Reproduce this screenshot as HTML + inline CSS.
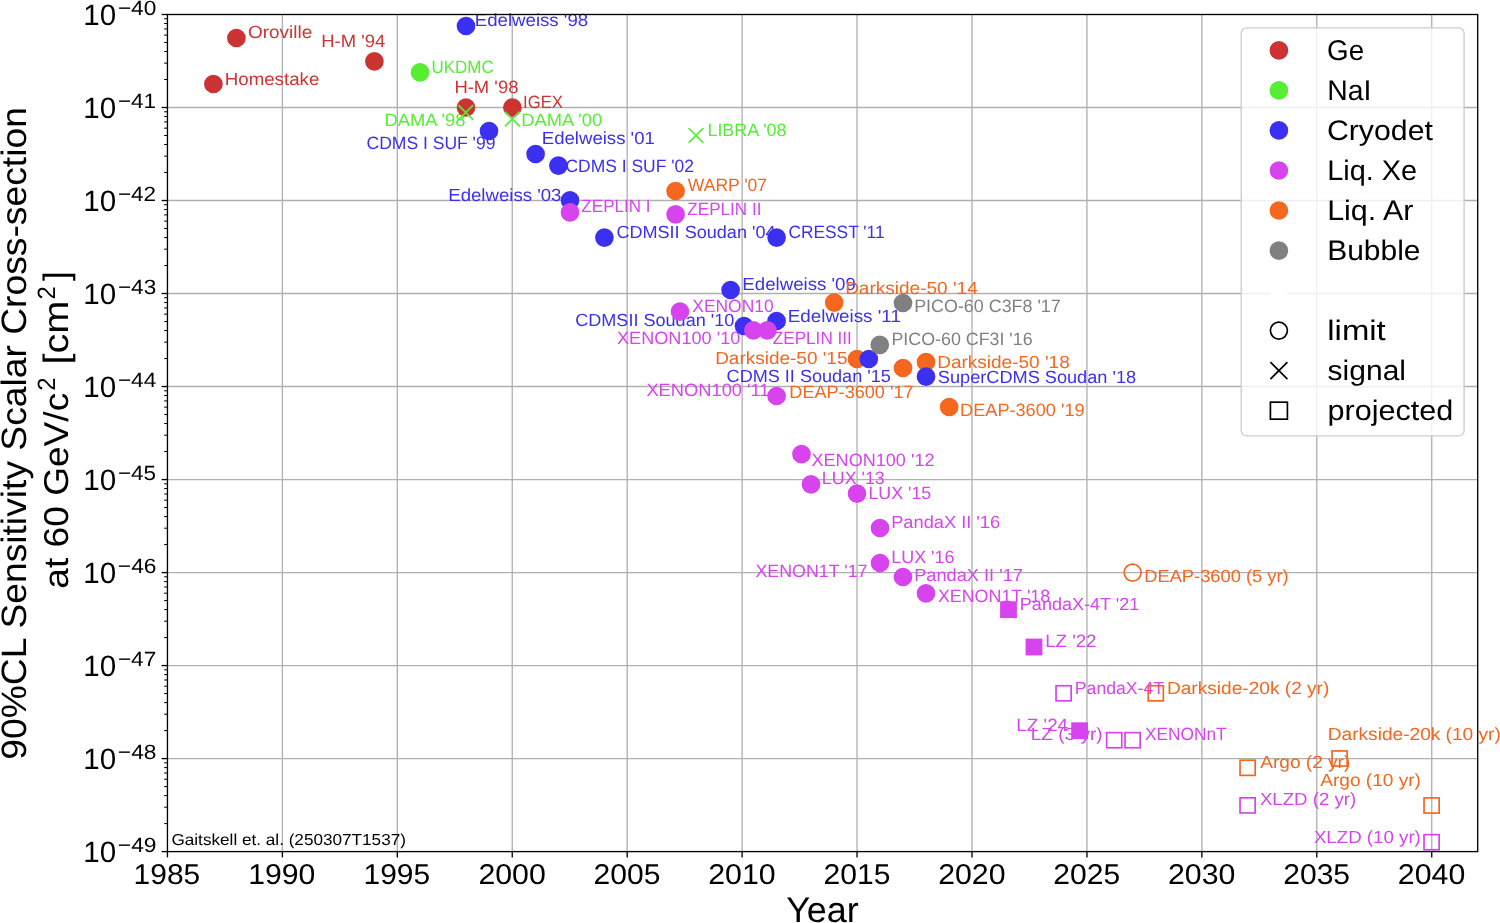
<!DOCTYPE html>
<html><head><meta charset="utf-8"><title>WIMP cross-section limits</title><style>html,body{margin:0;padding:0;background:#fff;overflow:hidden}svg{display:block;will-change:transform}text{font-family:"Liberation Sans",sans-serif;white-space:pre;text-rendering:geometricPrecision}</style></head><body>
<svg width="1500" height="923" viewBox="0 0 1500 923" font-family="Liberation Sans, sans-serif">
<rect x="0" y="0" width="1500" height="923" fill="#ffffff"/>
<g stroke="#b0b0b0" stroke-width="1.333" fill="none"><line x1="282.38" y1="14.50" x2="282.38" y2="851.60"/><line x1="397.32" y1="14.50" x2="397.32" y2="851.60"/><line x1="512.25" y1="14.50" x2="512.25" y2="851.60"/><line x1="627.19" y1="14.50" x2="627.19" y2="851.60"/><line x1="742.12" y1="14.50" x2="742.12" y2="851.60"/><line x1="857.06" y1="14.50" x2="857.06" y2="851.60"/><line x1="971.99" y1="14.50" x2="971.99" y2="851.60"/><line x1="1086.93" y1="14.50" x2="1086.93" y2="851.60"/><line x1="1201.87" y1="14.50" x2="1201.87" y2="851.60"/><line x1="1316.80" y1="14.50" x2="1316.80" y2="851.60"/><line x1="1431.73" y1="14.50" x2="1431.73" y2="851.60"/><line x1="167.45" y1="107.51" x2="1477.70" y2="107.51"/><line x1="167.45" y1="200.52" x2="1477.70" y2="200.52"/><line x1="167.45" y1="293.53" x2="1477.70" y2="293.53"/><line x1="167.45" y1="386.54" x2="1477.70" y2="386.54"/><line x1="167.45" y1="479.56" x2="1477.70" y2="479.56"/><line x1="167.45" y1="572.57" x2="1477.70" y2="572.57"/><line x1="167.45" y1="665.58" x2="1477.70" y2="665.58"/><line x1="167.45" y1="758.59" x2="1477.70" y2="758.59"/></g>
<g><text transform="translate(248.00,38.00) scale(1.1276,1.0485)" font-size="16.81" fill="#cc3333">Oroville</text><text transform="translate(224.77,84.80) scale(1.1125,1.0485)" font-size="16.81" fill="#cc3333">Homestake</text><text transform="translate(321.19,46.80) scale(1.0979,1.0629)" font-size="16.81" fill="#cc3333">H-M '94</text><text transform="translate(454.39,93.40) scale(1.0989,1.0629)" font-size="16.81" fill="#cc3333">H-M '98</text><text transform="translate(523.06,108.00) scale(0.9917,1.0629)" font-size="16.81" fill="#cc3333">IGEX</text><text transform="translate(431.59,72.60) scale(1.0075,1.0629)" font-size="16.81" fill="#55ee33">UKDMC</text><text transform="translate(384.51,126.00) scale(1.0915,1.0629)" font-size="16.81" fill="#55ee33">DAMA '98</text><text transform="translate(521.20,126.00) scale(1.0909,1.0629)" font-size="16.81" fill="#55ee33">DAMA '00</text><text transform="translate(707.43,135.80) scale(1.0664,1.0629)" font-size="16.81" fill="#55ee33">LIBRA '08</text><text transform="translate(474.77,26.00) scale(1.1097,1.0485)" font-size="16.81" fill="#3c30f0">Edelweiss '98</text><text transform="translate(366.47,149.00) scale(1.0436,1.0629)" font-size="16.81" fill="#3c30f0">CDMS I SUF '99</text><text transform="translate(541.77,144.40) scale(1.1067,1.0485)" font-size="16.81" fill="#3c30f0">Edelweiss '01</text><text transform="translate(565.41,172.40) scale(1.0399,1.0629)" font-size="16.81" fill="#3c30f0">CDMS I SUF '02</text><text transform="translate(448.26,200.80) scale(1.1079,1.0485)" font-size="16.81" fill="#3c30f0">Edelweiss '03</text><text transform="translate(616.38,238.00) scale(1.0758,1.0485)" font-size="16.81" fill="#3c30f0">CDMSII Soudan '04</text><text transform="translate(788.42,238.00) scale(1.0323,1.0629)" font-size="16.81" fill="#3c30f0">CRESST '11</text><text transform="translate(742.37,290.40) scale(1.1102,1.0485)" font-size="16.81" fill="#3c30f0">Edelweiss '09</text><text transform="translate(575.18,326.00) scale(1.0759,1.0485)" font-size="16.81" fill="#3c30f0">CDMSII Soudan '10</text><text transform="translate(787.76,321.80) scale(1.1206,1.0485)" font-size="16.81" fill="#3c30f0">Edelweiss '11</text><text transform="translate(581.36,212.40) scale(1.0145,1.0597)" font-size="16.81" fill="#d744ee">ZEPLIN I</text><text transform="translate(687.36,214.80) scale(1.0176,1.0597)" font-size="16.81" fill="#d744ee">ZEPLIN II</text><text transform="translate(692.31,312.00) scale(1.0368,1.0629)" font-size="16.81" fill="#d744ee">XENON10</text><text transform="translate(616.98,344.40) scale(1.0791,1.0629)" font-size="16.81" fill="#d744ee">XENON100 '10</text><text transform="translate(772.76,344.40) scale(1.0203,1.0597)" font-size="16.81" fill="#d744ee">ZEPLIN III</text><text transform="translate(687.82,191.40) scale(1.0427,1.0629)" font-size="16.81" fill="#f5661e">WARP '07</text><text transform="translate(845.14,293.50) scale(1.1320,1.0485)" font-size="16.81" fill="#f5661e">Darkside-50 '14</text><text transform="translate(715.15,364.00) scale(1.1295,1.0485)" font-size="16.81" fill="#f5661e">Darkside-50 '15</text><text transform="translate(726.59,382.00) scale(1.0760,1.0485)" font-size="16.81" fill="#3c30f0">CDMS II Soudan '15</text><text transform="translate(914.13,312.20) scale(1.0654,1.0629)" font-size="16.81" fill="#808080">PICO-60 C3F8 '17</text><text transform="translate(891.44,345.20) scale(1.0617,1.0629)" font-size="16.81" fill="#808080">PICO-60 CF3I '16</text><text transform="translate(789.31,397.70) scale(1.0779,1.0629)" font-size="16.81" fill="#f5661e">DEAP-3600 '17</text><text transform="translate(937.14,367.90) scale(1.1325,1.0485)" font-size="16.81" fill="#f5661e">Darkside-50 '18</text><text transform="translate(937.87,383.00) scale(1.0808,1.0485)" font-size="16.81" fill="#3c30f0">SuperCDMS Soudan '18</text><text transform="translate(960.11,415.60) scale(1.0797,1.0629)" font-size="16.81" fill="#f5661e">DEAP-3600 '19</text><text transform="translate(646.42,396.40) scale(1.0888,1.0629)" font-size="16.81" fill="#d744ee">XENON100 '11</text><text transform="translate(811.49,465.80) scale(1.0759,1.0629)" font-size="16.81" fill="#d744ee">XENON100 '12</text><text transform="translate(821.84,484.20) scale(1.0620,1.0629)" font-size="16.81" fill="#d744ee">LUX '13</text><text transform="translate(868.44,498.80) scale(1.0592,1.0597)" font-size="16.81" fill="#d744ee">LUX '15</text><text transform="translate(891.20,528.40) scale(1.0858,1.0485)" font-size="16.81" fill="#d744ee">PandaX II '16</text><text transform="translate(891.23,562.80) scale(1.0670,1.0629)" font-size="16.81" fill="#d744ee">LUX '16</text><text transform="translate(755.43,577.40) scale(1.0617,1.0629)" font-size="16.81" fill="#d744ee">XENON1T '17</text><text transform="translate(914.21,581.40) scale(1.0832,1.0485)" font-size="16.81" fill="#d744ee">PandaX II '17</text><text transform="translate(937.90,602.40) scale(1.0632,1.0629)" font-size="16.81" fill="#d744ee">XENON1T '18</text><text transform="translate(1019.82,610.00) scale(1.0737,1.0485)" font-size="16.81" fill="#d744ee">PandaX-4T '21</text><text transform="translate(1045.17,647.40) scale(1.1121,1.0629)" font-size="16.81" fill="#d744ee">LZ '22</text><text transform="translate(1144.20,581.90) scale(1.0898,1.0470)" font-size="16.81" fill="#f5661e">DEAP-3600 (5 yr)</text><text transform="translate(1074.85,694.00) scale(1.0497,1.0485)" font-size="16.81" fill="#d744ee">PandaX-4T</text><text transform="translate(1030.74,740.40) scale(1.1320,1.0470)" font-size="16.81" fill="#d744ee">LZ (3 yr)</text><text transform="translate(1144.91,740.00) scale(1.0299,1.0629)" font-size="16.81" fill="#d744ee">XENONnT</text><text transform="translate(1016.36,731.00) scale(1.1200,1.0629)" font-size="16.81" fill="#d744ee">LZ '24</text><text transform="translate(1166.93,693.90) scale(1.1373,1.0485)" font-size="16.81" fill="#f5661e">Darkside-20k (2 yr)</text><text transform="translate(1327.73,740.40) scale(1.1377,1.0485)" font-size="16.81" fill="#f5661e">Darkside-20k (10 yr)</text><text transform="translate(1260.26,768.00) scale(1.1345,1.0470)" font-size="16.81" fill="#f5661e">Argo (2 yr)</text><text transform="translate(1320.26,786.40) scale(1.1355,1.0470)" font-size="16.81" fill="#f5661e">Argo (10 yr)</text><text transform="translate(1259.88,805.40) scale(1.1091,1.0470)" font-size="16.81" fill="#d744ee">XLZD (2 yr)</text><text transform="translate(1313.88,842.80) scale(1.1125,1.0470)" font-size="16.81" fill="#d744ee">XLZD (10 yr)</text></g>
<g><circle cx="236.40" cy="38.00" r="8.5" fill="#cc3333" stroke="#cc3333" stroke-width="1.68"/><circle cx="213.40" cy="84.00" r="8.5" fill="#cc3333" stroke="#cc3333" stroke-width="1.68"/><circle cx="374.40" cy="61.40" r="8.5" fill="#cc3333" stroke="#cc3333" stroke-width="1.68"/><circle cx="466.00" cy="107.50" r="8.5" fill="#cc3333" stroke="#cc3333" stroke-width="1.68"/><circle cx="512.40" cy="107.50" r="8.5" fill="#cc3333" stroke="#cc3333" stroke-width="1.68"/><circle cx="420.00" cy="72.40" r="8.5" fill="#55ee33" stroke="#55ee33" stroke-width="1.68"/><path d="M458.40,105.10L473.20,119.90M458.40,119.90L473.20,105.10" stroke="#55ee33" stroke-width="1.68" fill="none"/><path d="M504.90,111.60L519.70,126.40M504.90,126.40L519.70,111.60" stroke="#55ee33" stroke-width="1.68" fill="none"/><path d="M688.60,128.00L703.40,142.80M688.60,142.80L703.40,128.00" stroke="#55ee33" stroke-width="1.68" fill="none"/><circle cx="466.00" cy="26.00" r="8.5" fill="#3c30f0" stroke="#3c30f0" stroke-width="1.68"/><circle cx="489.00" cy="131.00" r="8.5" fill="#3c30f0" stroke="#3c30f0" stroke-width="1.68"/><circle cx="535.60" cy="154.00" r="8.5" fill="#3c30f0" stroke="#3c30f0" stroke-width="1.68"/><circle cx="558.40" cy="165.60" r="8.5" fill="#3c30f0" stroke="#3c30f0" stroke-width="1.68"/><circle cx="570.00" cy="200.30" r="8.5" fill="#3c30f0" stroke="#3c30f0" stroke-width="1.68"/><circle cx="604.40" cy="237.60" r="8.5" fill="#3c30f0" stroke="#3c30f0" stroke-width="1.68"/><circle cx="776.60" cy="237.60" r="8.5" fill="#3c30f0" stroke="#3c30f0" stroke-width="1.68"/><circle cx="730.60" cy="290.00" r="8.5" fill="#3c30f0" stroke="#3c30f0" stroke-width="1.68"/><circle cx="744.00" cy="326.00" r="8.5" fill="#3c30f0" stroke="#3c30f0" stroke-width="1.68"/><circle cx="776.60" cy="321.00" r="8.5" fill="#3c30f0" stroke="#3c30f0" stroke-width="1.68"/><circle cx="570.00" cy="212.40" r="8.5" fill="#d744ee" stroke="#d744ee" stroke-width="1.68"/><circle cx="675.60" cy="214.40" r="8.5" fill="#d744ee" stroke="#d744ee" stroke-width="1.68"/><circle cx="680.00" cy="311.60" r="8.5" fill="#d744ee" stroke="#d744ee" stroke-width="1.68"/><circle cx="753.40" cy="330.40" r="8.5" fill="#d744ee" stroke="#d744ee" stroke-width="1.68"/><circle cx="767.40" cy="330.40" r="8.5" fill="#d744ee" stroke="#d744ee" stroke-width="1.68"/><circle cx="675.60" cy="191.00" r="8.5" fill="#f5661e" stroke="#f5661e" stroke-width="1.68"/><circle cx="834.20" cy="302.60" r="8.5" fill="#f5661e" stroke="#f5661e" stroke-width="1.68"/><circle cx="857.00" cy="359.00" r="8.5" fill="#f5661e" stroke="#f5661e" stroke-width="1.68"/><circle cx="868.80" cy="359.00" r="8.5" fill="#3c30f0" stroke="#3c30f0" stroke-width="1.68"/><circle cx="903.00" cy="303.00" r="8.5" fill="#808080" stroke="#808080" stroke-width="1.68"/><circle cx="879.80" cy="344.80" r="8.5" fill="#808080" stroke="#808080" stroke-width="1.68"/><circle cx="903.00" cy="368.00" r="8.5" fill="#f5661e" stroke="#f5661e" stroke-width="1.68"/><circle cx="926.00" cy="362.00" r="8.5" fill="#f5661e" stroke="#f5661e" stroke-width="1.68"/><circle cx="926.00" cy="376.70" r="8.5" fill="#3c30f0" stroke="#3c30f0" stroke-width="1.68"/><circle cx="949.20" cy="407.00" r="8.5" fill="#f5661e" stroke="#f5661e" stroke-width="1.68"/><circle cx="776.60" cy="396.00" r="8.5" fill="#d744ee" stroke="#d744ee" stroke-width="1.68"/><circle cx="801.50" cy="454.20" r="8.5" fill="#d744ee" stroke="#d744ee" stroke-width="1.68"/><circle cx="811.00" cy="484.40" r="8.5" fill="#d744ee" stroke="#d744ee" stroke-width="1.68"/><circle cx="857.00" cy="493.60" r="8.5" fill="#d744ee" stroke="#d744ee" stroke-width="1.68"/><circle cx="880.00" cy="528.00" r="8.5" fill="#d744ee" stroke="#d744ee" stroke-width="1.68"/><circle cx="880.00" cy="563.00" r="8.5" fill="#d744ee" stroke="#d744ee" stroke-width="1.68"/><circle cx="903.00" cy="577.00" r="8.5" fill="#d744ee" stroke="#d744ee" stroke-width="1.68"/><circle cx="926.00" cy="593.30" r="8.5" fill="#d744ee" stroke="#d744ee" stroke-width="1.68"/><rect x="1000.94" y="602.14" width="15.12" height="15.12" fill="#d744ee" stroke="#d744ee" stroke-width="1.68"/><rect x="1026.44" y="639.44" width="15.12" height="15.12" fill="#d744ee" stroke="#d744ee" stroke-width="1.68"/><circle cx="1132.60" cy="572.60" r="8.5" fill="none" stroke="#f5661e" stroke-width="1.68"/><rect x="1056.04" y="685.74" width="15.12" height="15.12" fill="none" stroke="#d744ee" stroke-width="1.68"/><rect x="1106.64" y="732.64" width="15.12" height="15.12" fill="none" stroke="#d744ee" stroke-width="1.68"/><rect x="1125.04" y="732.64" width="15.12" height="15.12" fill="none" stroke="#d744ee" stroke-width="1.68"/><rect x="1072.04" y="723.14" width="15.12" height="15.12" fill="#d744ee" stroke="#d744ee" stroke-width="1.68"/><rect x="1148.24" y="685.74" width="15.12" height="15.12" fill="none" stroke="#f5661e" stroke-width="1.68"/><rect x="1332.04" y="750.94" width="15.12" height="15.12" fill="none" stroke="#f5661e" stroke-width="1.68"/><rect x="1240.04" y="760.24" width="15.12" height="15.12" fill="none" stroke="#f5661e" stroke-width="1.68"/><rect x="1424.04" y="797.94" width="15.12" height="15.12" fill="none" stroke="#f5661e" stroke-width="1.68"/><rect x="1240.04" y="797.84" width="15.12" height="15.12" fill="none" stroke="#d744ee" stroke-width="1.68"/><rect x="1424.04" y="834.64" width="15.12" height="15.12" fill="none" stroke="#d744ee" stroke-width="1.68"/></g>
<text transform="translate(171.44,844.60) scale(1.1349,1.0485)" font-size="15.12" fill="#000">Gaitskell et. al. (250307T1537)</text>
<rect x="167.45" y="14.50" width="1310.25" height="837.10" fill="none" stroke="#000" stroke-width="1.333"/>
<g stroke="#000" stroke-width="1.333"><line x1="167.45" y1="851.60" x2="167.45" y2="857.43"/><line x1="282.38" y1="851.60" x2="282.38" y2="857.43"/><line x1="397.32" y1="851.60" x2="397.32" y2="857.43"/><line x1="512.25" y1="851.60" x2="512.25" y2="857.43"/><line x1="627.19" y1="851.60" x2="627.19" y2="857.43"/><line x1="742.12" y1="851.60" x2="742.12" y2="857.43"/><line x1="857.06" y1="851.60" x2="857.06" y2="857.43"/><line x1="971.99" y1="851.60" x2="971.99" y2="857.43"/><line x1="1086.93" y1="851.60" x2="1086.93" y2="857.43"/><line x1="1201.87" y1="851.60" x2="1201.87" y2="857.43"/><line x1="1316.80" y1="851.60" x2="1316.80" y2="857.43"/><line x1="1431.73" y1="851.60" x2="1431.73" y2="857.43"/><line x1="161.62" y1="14.50" x2="167.45" y2="14.50"/><line x1="161.62" y1="107.51" x2="167.45" y2="107.51"/><line x1="161.62" y1="200.52" x2="167.45" y2="200.52"/><line x1="161.62" y1="293.53" x2="167.45" y2="293.53"/><line x1="161.62" y1="386.54" x2="167.45" y2="386.54"/><line x1="161.62" y1="479.56" x2="167.45" y2="479.56"/><line x1="161.62" y1="572.57" x2="167.45" y2="572.57"/><line x1="161.62" y1="665.58" x2="167.45" y2="665.58"/><line x1="161.62" y1="758.59" x2="167.45" y2="758.59"/><line x1="161.62" y1="851.60" x2="167.45" y2="851.60"/></g>
<g stroke="#000" stroke-width="1.0"><line x1="164.12" y1="79.51" x2="167.45" y2="79.51"/><line x1="164.12" y1="63.13" x2="167.45" y2="63.13"/><line x1="164.12" y1="51.51" x2="167.45" y2="51.51"/><line x1="164.12" y1="42.50" x2="167.45" y2="42.50"/><line x1="164.12" y1="35.13" x2="167.45" y2="35.13"/><line x1="164.12" y1="28.91" x2="167.45" y2="28.91"/><line x1="164.12" y1="23.51" x2="167.45" y2="23.51"/><line x1="164.12" y1="18.76" x2="167.45" y2="18.76"/><line x1="164.12" y1="172.52" x2="167.45" y2="172.52"/><line x1="164.12" y1="156.14" x2="167.45" y2="156.14"/><line x1="164.12" y1="144.52" x2="167.45" y2="144.52"/><line x1="164.12" y1="135.51" x2="167.45" y2="135.51"/><line x1="164.12" y1="128.15" x2="167.45" y2="128.15"/><line x1="164.12" y1="121.92" x2="167.45" y2="121.92"/><line x1="164.12" y1="116.52" x2="167.45" y2="116.52"/><line x1="164.12" y1="111.77" x2="167.45" y2="111.77"/><line x1="164.12" y1="265.53" x2="167.45" y2="265.53"/><line x1="164.12" y1="249.16" x2="167.45" y2="249.16"/><line x1="164.12" y1="237.54" x2="167.45" y2="237.54"/><line x1="164.12" y1="228.52" x2="167.45" y2="228.52"/><line x1="164.12" y1="221.16" x2="167.45" y2="221.16"/><line x1="164.12" y1="214.93" x2="167.45" y2="214.93"/><line x1="164.12" y1="209.54" x2="167.45" y2="209.54"/><line x1="164.12" y1="204.78" x2="167.45" y2="204.78"/><line x1="164.12" y1="358.55" x2="167.45" y2="358.55"/><line x1="164.12" y1="342.17" x2="167.45" y2="342.17"/><line x1="164.12" y1="330.55" x2="167.45" y2="330.55"/><line x1="164.12" y1="321.53" x2="167.45" y2="321.53"/><line x1="164.12" y1="314.17" x2="167.45" y2="314.17"/><line x1="164.12" y1="307.94" x2="167.45" y2="307.94"/><line x1="164.12" y1="302.55" x2="167.45" y2="302.55"/><line x1="164.12" y1="297.79" x2="167.45" y2="297.79"/><line x1="164.12" y1="451.56" x2="167.45" y2="451.56"/><line x1="164.12" y1="435.18" x2="167.45" y2="435.18"/><line x1="164.12" y1="423.56" x2="167.45" y2="423.56"/><line x1="164.12" y1="414.54" x2="167.45" y2="414.54"/><line x1="164.12" y1="407.18" x2="167.45" y2="407.18"/><line x1="164.12" y1="400.95" x2="167.45" y2="400.95"/><line x1="164.12" y1="395.56" x2="167.45" y2="395.56"/><line x1="164.12" y1="390.80" x2="167.45" y2="390.80"/><line x1="164.12" y1="544.57" x2="167.45" y2="544.57"/><line x1="164.12" y1="528.19" x2="167.45" y2="528.19"/><line x1="164.12" y1="516.57" x2="167.45" y2="516.57"/><line x1="164.12" y1="507.55" x2="167.45" y2="507.55"/><line x1="164.12" y1="500.19" x2="167.45" y2="500.19"/><line x1="164.12" y1="493.96" x2="167.45" y2="493.96"/><line x1="164.12" y1="488.57" x2="167.45" y2="488.57"/><line x1="164.12" y1="483.81" x2="167.45" y2="483.81"/><line x1="164.12" y1="637.58" x2="167.45" y2="637.58"/><line x1="164.12" y1="621.20" x2="167.45" y2="621.20"/><line x1="164.12" y1="609.58" x2="167.45" y2="609.58"/><line x1="164.12" y1="600.57" x2="167.45" y2="600.57"/><line x1="164.12" y1="593.20" x2="167.45" y2="593.20"/><line x1="164.12" y1="586.97" x2="167.45" y2="586.97"/><line x1="164.12" y1="581.58" x2="167.45" y2="581.58"/><line x1="164.12" y1="576.82" x2="167.45" y2="576.82"/><line x1="164.12" y1="730.59" x2="167.45" y2="730.59"/><line x1="164.12" y1="714.21" x2="167.45" y2="714.21"/><line x1="164.12" y1="702.59" x2="167.45" y2="702.59"/><line x1="164.12" y1="693.58" x2="167.45" y2="693.58"/><line x1="164.12" y1="686.21" x2="167.45" y2="686.21"/><line x1="164.12" y1="679.99" x2="167.45" y2="679.99"/><line x1="164.12" y1="674.59" x2="167.45" y2="674.59"/><line x1="164.12" y1="669.83" x2="167.45" y2="669.83"/><line x1="164.12" y1="823.60" x2="167.45" y2="823.60"/><line x1="164.12" y1="807.22" x2="167.45" y2="807.22"/><line x1="164.12" y1="795.60" x2="167.45" y2="795.60"/><line x1="164.12" y1="786.59" x2="167.45" y2="786.59"/><line x1="164.12" y1="779.22" x2="167.45" y2="779.22"/><line x1="164.12" y1="773.00" x2="167.45" y2="773.00"/><line x1="164.12" y1="767.60" x2="167.45" y2="767.60"/><line x1="164.12" y1="762.84" x2="167.45" y2="762.84"/></g>
<text transform="translate(133.60,883.70) scale(1.1146,1.0629)" font-size="26.89" fill="#000">1985</text>
<text transform="translate(248.24,883.70) scale(1.1230,1.0629)" font-size="26.89" fill="#000">1990</text>
<text transform="translate(363.47,883.70) scale(1.1146,1.0629)" font-size="26.89" fill="#000">1995</text>
<text transform="translate(478.39,883.70) scale(1.1265,1.0629)" font-size="26.89" fill="#000">2000</text>
<text transform="translate(593.62,883.70) scale(1.1182,1.0629)" font-size="26.89" fill="#000">2005</text>
<text transform="translate(708.26,883.70) scale(1.1265,1.0629)" font-size="26.89" fill="#000">2010</text>
<text transform="translate(823.49,883.70) scale(1.1182,1.0629)" font-size="26.89" fill="#000">2015</text>
<text transform="translate(938.13,883.70) scale(1.1265,1.0629)" font-size="26.89" fill="#000">2020</text>
<text transform="translate(1053.36,883.70) scale(1.1182,1.0629)" font-size="26.89" fill="#000">2025</text>
<text transform="translate(1168.00,883.70) scale(1.1265,1.0629)" font-size="26.89" fill="#000">2030</text>
<text transform="translate(1283.23,883.70) scale(1.1182,1.0629)" font-size="26.89" fill="#000">2035</text>
<text transform="translate(1397.87,883.70) scale(1.1265,1.0629)" font-size="26.89" fill="#000">2040</text>
<text transform="translate(83.25,24.90) scale(1.0996,1.0948)" font-size="26.89" fill="#000">10</text>
<text transform="translate(117.88,14.56) scale(1.2054,1.0948)" font-size="18.82" fill="#000">−40</text>
<text transform="translate(83.25,117.91) scale(1.0996,1.0948)" font-size="26.89" fill="#000">10</text>
<text transform="translate(117.88,107.58) scale(1.1965,1.0915)" font-size="18.82" fill="#000">−41</text>
<text transform="translate(83.25,210.92) scale(1.0996,1.0948)" font-size="26.89" fill="#000">10</text>
<text transform="translate(117.89,200.59) scale(1.1926,1.0948)" font-size="18.82" fill="#000">−42</text>
<text transform="translate(83.25,303.93) scale(1.0996,1.0948)" font-size="26.89" fill="#000">10</text>
<text transform="translate(117.88,293.60) scale(1.2005,1.0948)" font-size="18.82" fill="#000">−43</text>
<text transform="translate(83.25,396.94) scale(1.0996,1.0948)" font-size="26.89" fill="#000">10</text>
<text transform="translate(117.88,386.61) scale(1.2044,1.0915)" font-size="18.82" fill="#000">−44</text>
<text transform="translate(83.25,489.96) scale(1.0996,1.0948)" font-size="26.89" fill="#000">10</text>
<text transform="translate(117.89,479.62) scale(1.1945,1.0915)" font-size="18.82" fill="#000">−45</text>
<text transform="translate(83.25,582.97) scale(1.0996,1.0948)" font-size="26.89" fill="#000">10</text>
<text transform="translate(117.87,572.63) scale(1.2112,1.0948)" font-size="18.82" fill="#000">−46</text>
<text transform="translate(83.25,675.98) scale(1.0996,1.0948)" font-size="26.89" fill="#000">10</text>
<text transform="translate(117.88,665.64) scale(1.2018,1.0915)" font-size="18.82" fill="#000">−47</text>
<text transform="translate(83.25,768.99) scale(1.0996,1.0948)" font-size="26.89" fill="#000">10</text>
<text transform="translate(117.87,758.65) scale(1.2074,1.0948)" font-size="18.82" fill="#000">−48</text>
<text transform="translate(83.25,862.00) scale(1.0996,1.0948)" font-size="26.89" fill="#000">10</text>
<text transform="translate(117.87,851.66) scale(1.2092,1.0948)" font-size="18.82" fill="#000">−49</text>
<text transform="translate(786.16,922.30) scale(1.0691,1.0597)" font-size="33.61" fill="#000">Year</text>
<g transform="translate(26.00,760.08) rotate(-90)"><text transform="translate(0.37,0.00) scale(1.1079,1.0485)" font-size="33.61" fill="#000">90%CL Sensitivity Scalar Cross-section</text></g>
<g transform="translate(67.80,589.10) rotate(-90)"><text transform="translate(0.44,-0.00) scale(1.1036,1.0241)" font-size="33.61" fill="#000">at 60 GeV/c</text><text transform="translate(198.36,-13.02) scale(1.0158,1.0629)" font-size="23.53" fill="#000">2</text><text transform="translate(213.44,-0.00) scale(1.1830,1.0485)" font-size="33.61" fill="#000"> [cm</text><text transform="translate(289.64,-13.02) scale(1.0158,1.0629)" font-size="23.53" fill="#000">2</text><text transform="translate(308.02,-0.00) scale(1.0417,1.0485)" font-size="33.61" fill="#000">]</text></g>
<rect x="1241.2" y="27.9" width="222.90" height="408.00" rx="5.3" ry="5.3" fill="#ffffff" fill-opacity="0.8" stroke="#cccccc" stroke-width="1.333"/>
<circle cx="1278.90" cy="50.40" r="8.5" fill="#cc3333" stroke="#cc3333" stroke-width="1.68"/>

<circle cx="1278.90" cy="90.43" r="8.5" fill="#55ee33" stroke="#55ee33" stroke-width="1.68"/>

<circle cx="1278.90" cy="130.46" r="8.5" fill="#3c30f0" stroke="#3c30f0" stroke-width="1.68"/>

<circle cx="1278.90" cy="170.49" r="8.5" fill="#d744ee" stroke="#d744ee" stroke-width="1.68"/>

<circle cx="1278.90" cy="210.52" r="8.5" fill="#f5661e" stroke="#f5661e" stroke-width="1.68"/>

<circle cx="1278.90" cy="250.55" r="8.5" fill="#808080" stroke="#808080" stroke-width="1.68"/>

<circle cx="1278.90" cy="290.58" r="9.1" fill="#ffffff"/>
<circle cx="1278.90" cy="330.61" r="8.5" fill="none" stroke="#000" stroke-width="1.68"/>

<path d="M1270.40,362.14L1287.40,379.14M1270.40,379.14L1287.40,362.14" stroke="#000" stroke-width="1.68" fill="none"/>

<rect x="1270.40" y="402.17" width="17" height="17" fill="none" stroke="#000" stroke-width="1.68"/>

<text transform="translate(1327.10,59.50) scale(1.0336,1.0629)" font-size="26.89" fill="#000">Ge</text>
<text transform="translate(1327.30,99.53) scale(1.0561,1.0597)" font-size="26.89" fill="#000">NaI</text>
<text transform="translate(1326.96,139.56) scale(1.1254,1.0485)" font-size="26.89" fill="#000">Cryodet</text>
<text transform="translate(1327.26,179.59) scale(1.0745,1.0485)" font-size="26.89" fill="#000">Liq. Xe</text>
<text transform="translate(1327.13,219.62) scale(1.1338,1.0485)" font-size="26.89" fill="#000">Liq. Ar</text>
<text transform="translate(1327.17,259.65) scale(1.1151,1.0485)" font-size="26.89" fill="#000">Bubble</text>
<text transform="translate(1327.31,339.71) scale(1.2225,1.0485)" font-size="26.89" fill="#000">limit</text>
<text transform="translate(1327.62,379.74) scale(1.1159,1.0485)" font-size="26.89" fill="#000">signal</text>
<text transform="translate(1327.46,419.77) scale(1.1390,1.0485)" font-size="26.89" fill="#000">projected</text>
</svg>
</body></html>
